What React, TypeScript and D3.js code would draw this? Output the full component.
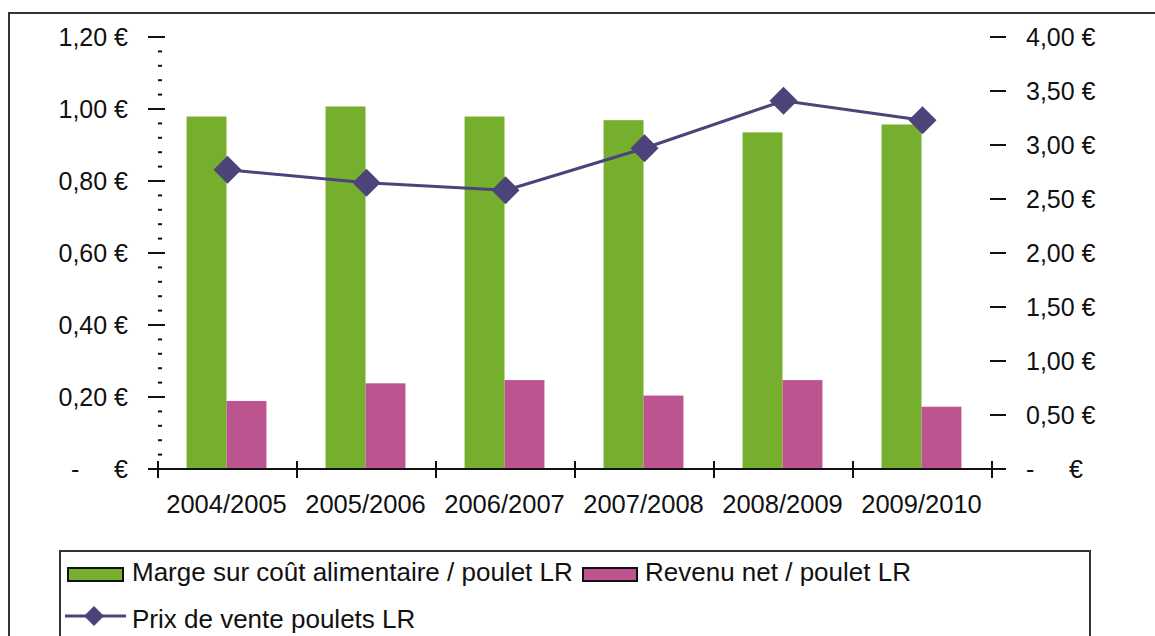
import React from "react";
import * as d3 from "d3";

const categories = ["2004/2005", "2005/2006", "2006/2007", "2007/2008", "2008/2009", "2009/2010"];
const margeValues = [0.979, 1.007, 0.979, 0.969, 0.935, 0.957];
const revenuValues = [0.189, 0.238, 0.247, 0.204, 0.247, 0.173];
const prixValues = [2.77, 2.65, 2.58, 2.97, 3.41, 3.23];
const leftTicks = [0, 0.2, 0.4, 0.6, 0.8, 1.0, 1.2];
const leftTickLabels = ["-     €", "0,20 €", "0,40 €", "0,60 €", "0,80 €", "1,00 €", "1,20 €"];
const rightTicks = [0, 0.5, 1, 1.5, 2, 2.5, 3, 3.5, 4];
const rightTickLabels = ["-     €", "0,50 €", "1,00 €", "1,50 €", "2,00 €", "2,50 €", "3,00 €", "3,50 €", "4,00 €"];
const seriesNames = ["Marge sur coût alimentaire / poulet LR", "Revenu net / poulet LR", "Prix de vente poulets LR"];

const GREEN = "#76AE2D";
const PINK = "#BC5490";
const PURPLE = "#4C437A";
const FONT = "'Liberation Sans', Arial, sans-serif";

export default function App() {
  const W = 1155, H = 636;
  const plotLeft = 158, plotRight = 992, plotTop = 37, plotBottom = 469;
  const x = d3.scaleBand<string>().domain(categories).range([plotLeft, plotRight]).paddingInner(0).paddingOuter(0);
  const inner = d3.scaleBand<string>().domain(["m", "r"]).range([0, x.bandwidth()]).paddingInner(0).paddingOuter(0.74);
  const yL = d3.scaleLinear().domain([0, 1.2]).range([plotBottom, plotTop]);
  const yR = d3.scaleLinear().domain([0, 4]).range([plotBottom, plotTop]);
  const minorTicks = d3.range(0, 1.2001, 0.04).filter((v) => Math.abs((v / 0.2) - Math.round(v / 0.2)) > 0.01);
  const linePath = d3.line<number>().x((_, i) => (x(categories[i]) as number) + x.bandwidth() / 2).y((d) => yR(d))(prixValues) || "";
  const diamond = (cx: number, cy: number, r: number) => `M${cx},${cy - r}L${cx + r},${cy}L${cx},${cy + r}L${cx - r},${cy}Z`;
  const boundaries = categories.map((c) => x(c) as number).concat([plotRight]);

  return (
    <svg width={W} height={H} style={{ position: "absolute", left: 0, top: 0, background: "#fff" }} fontFamily={FONT}>
      <rect x={0} y={0} width={W} height={H} fill="#fff" />
      {/* outer frame */}
      <rect x={9} y={13} width={W + 40} height={H + 40} fill="none" stroke="#333" strokeWidth={2} />

      {/* bars */}
      {categories.map((c, i) => (
        <g key={c}>
          <rect x={(x(c) as number) + (inner("m") as number) - 1} y={yL(margeValues[i])} width={inner.bandwidth()} height={plotBottom - yL(margeValues[i])} fill={GREEN} />
          <rect x={(x(c) as number) + (inner("r") as number) - 1} y={yL(revenuValues[i])} width={inner.bandwidth()} height={plotBottom - yL(revenuValues[i])} fill={PINK} />
        </g>
      ))}

      {/* baseline and category ticks */}
      <line x1={149} x2={1006} y1={plotBottom} y2={plotBottom} stroke="#111" strokeWidth={2} />
      {boundaries.map((b, i) => (
        <line key={i} x1={b} x2={b} y1={plotBottom - 8} y2={plotBottom + 9} stroke="#111" strokeWidth={2} />
      ))}

      {/* left axis */}
      {leftTicks.map((t, i) => (
        <g key={t}>
          <line x1={148} x2={165} y1={yL(t)} y2={yL(t)} stroke="#111" strokeWidth={2} />
          <text x={128} y={yL(t)} dy="0.36em" textAnchor="end" fontSize={25} fill="#111" style={{ whiteSpace: "pre" }}>{leftTickLabels[i]}</text>
        </g>
      ))}
      {minorTicks.map((t, i) => (
        <line key={i} x1={158} x2={162} y1={yL(t)} y2={yL(t)} stroke="#111" strokeWidth={2} />
      ))}

      {/* right axis */}
      {rightTicks.map((t, i) => (
        <g key={t}>
          <line x1={990} x2={1006} y1={yR(t)} y2={yR(t)} stroke="#111" strokeWidth={2} />
          <text x={1026} y={yR(t)} dy="0.36em" textAnchor="start" fontSize={25} fill="#111" style={{ whiteSpace: "pre" }}>{rightTickLabels[i]}</text>
        </g>
      ))}

      {/* x labels */}
      {categories.map((c) => (
        <text key={c} x={(x(c) as number) + x.bandwidth() / 2 - 1} y={513} textAnchor="middle" fontSize={25.5} fill="#111">{c}</text>
      ))}

      {/* line series */}
      <path d={linePath} fill="none" stroke={PURPLE} strokeWidth={3} />
      {prixValues.map((v, i) => (
        <path key={i} d={diamond((x(categories[i]) as number) + x.bandwidth() / 2, yR(v), 14)} fill={PURPLE} />
      ))}

      {/* legend */}
      <rect x={60} y={551} width={1030} height={200} fill="none" stroke="#333" strokeWidth={2} />
      <rect x={68} y={568} width={55} height={13} fill={GREEN} stroke="#111" strokeWidth={2} />
      <text x={132} y={581} fontSize={26} fill="#111">{seriesNames[0]}</text>
      <rect x={583} y={568} width={54} height={13} fill={PINK} stroke="#111" strokeWidth={2} />
      <text x={645} y={581} fontSize={26} fill="#111">{seriesNames[1]}</text>
      <line x1={65} x2={126} y1={616} y2={616} stroke={PURPLE} strokeWidth={3} />
      <path d={diamond(94, 616, 10)} fill={PURPLE} />
      <text x={132} y={628} fontSize={26} fill="#111">{seriesNames[2]}</text>
    </svg>
  );
}
